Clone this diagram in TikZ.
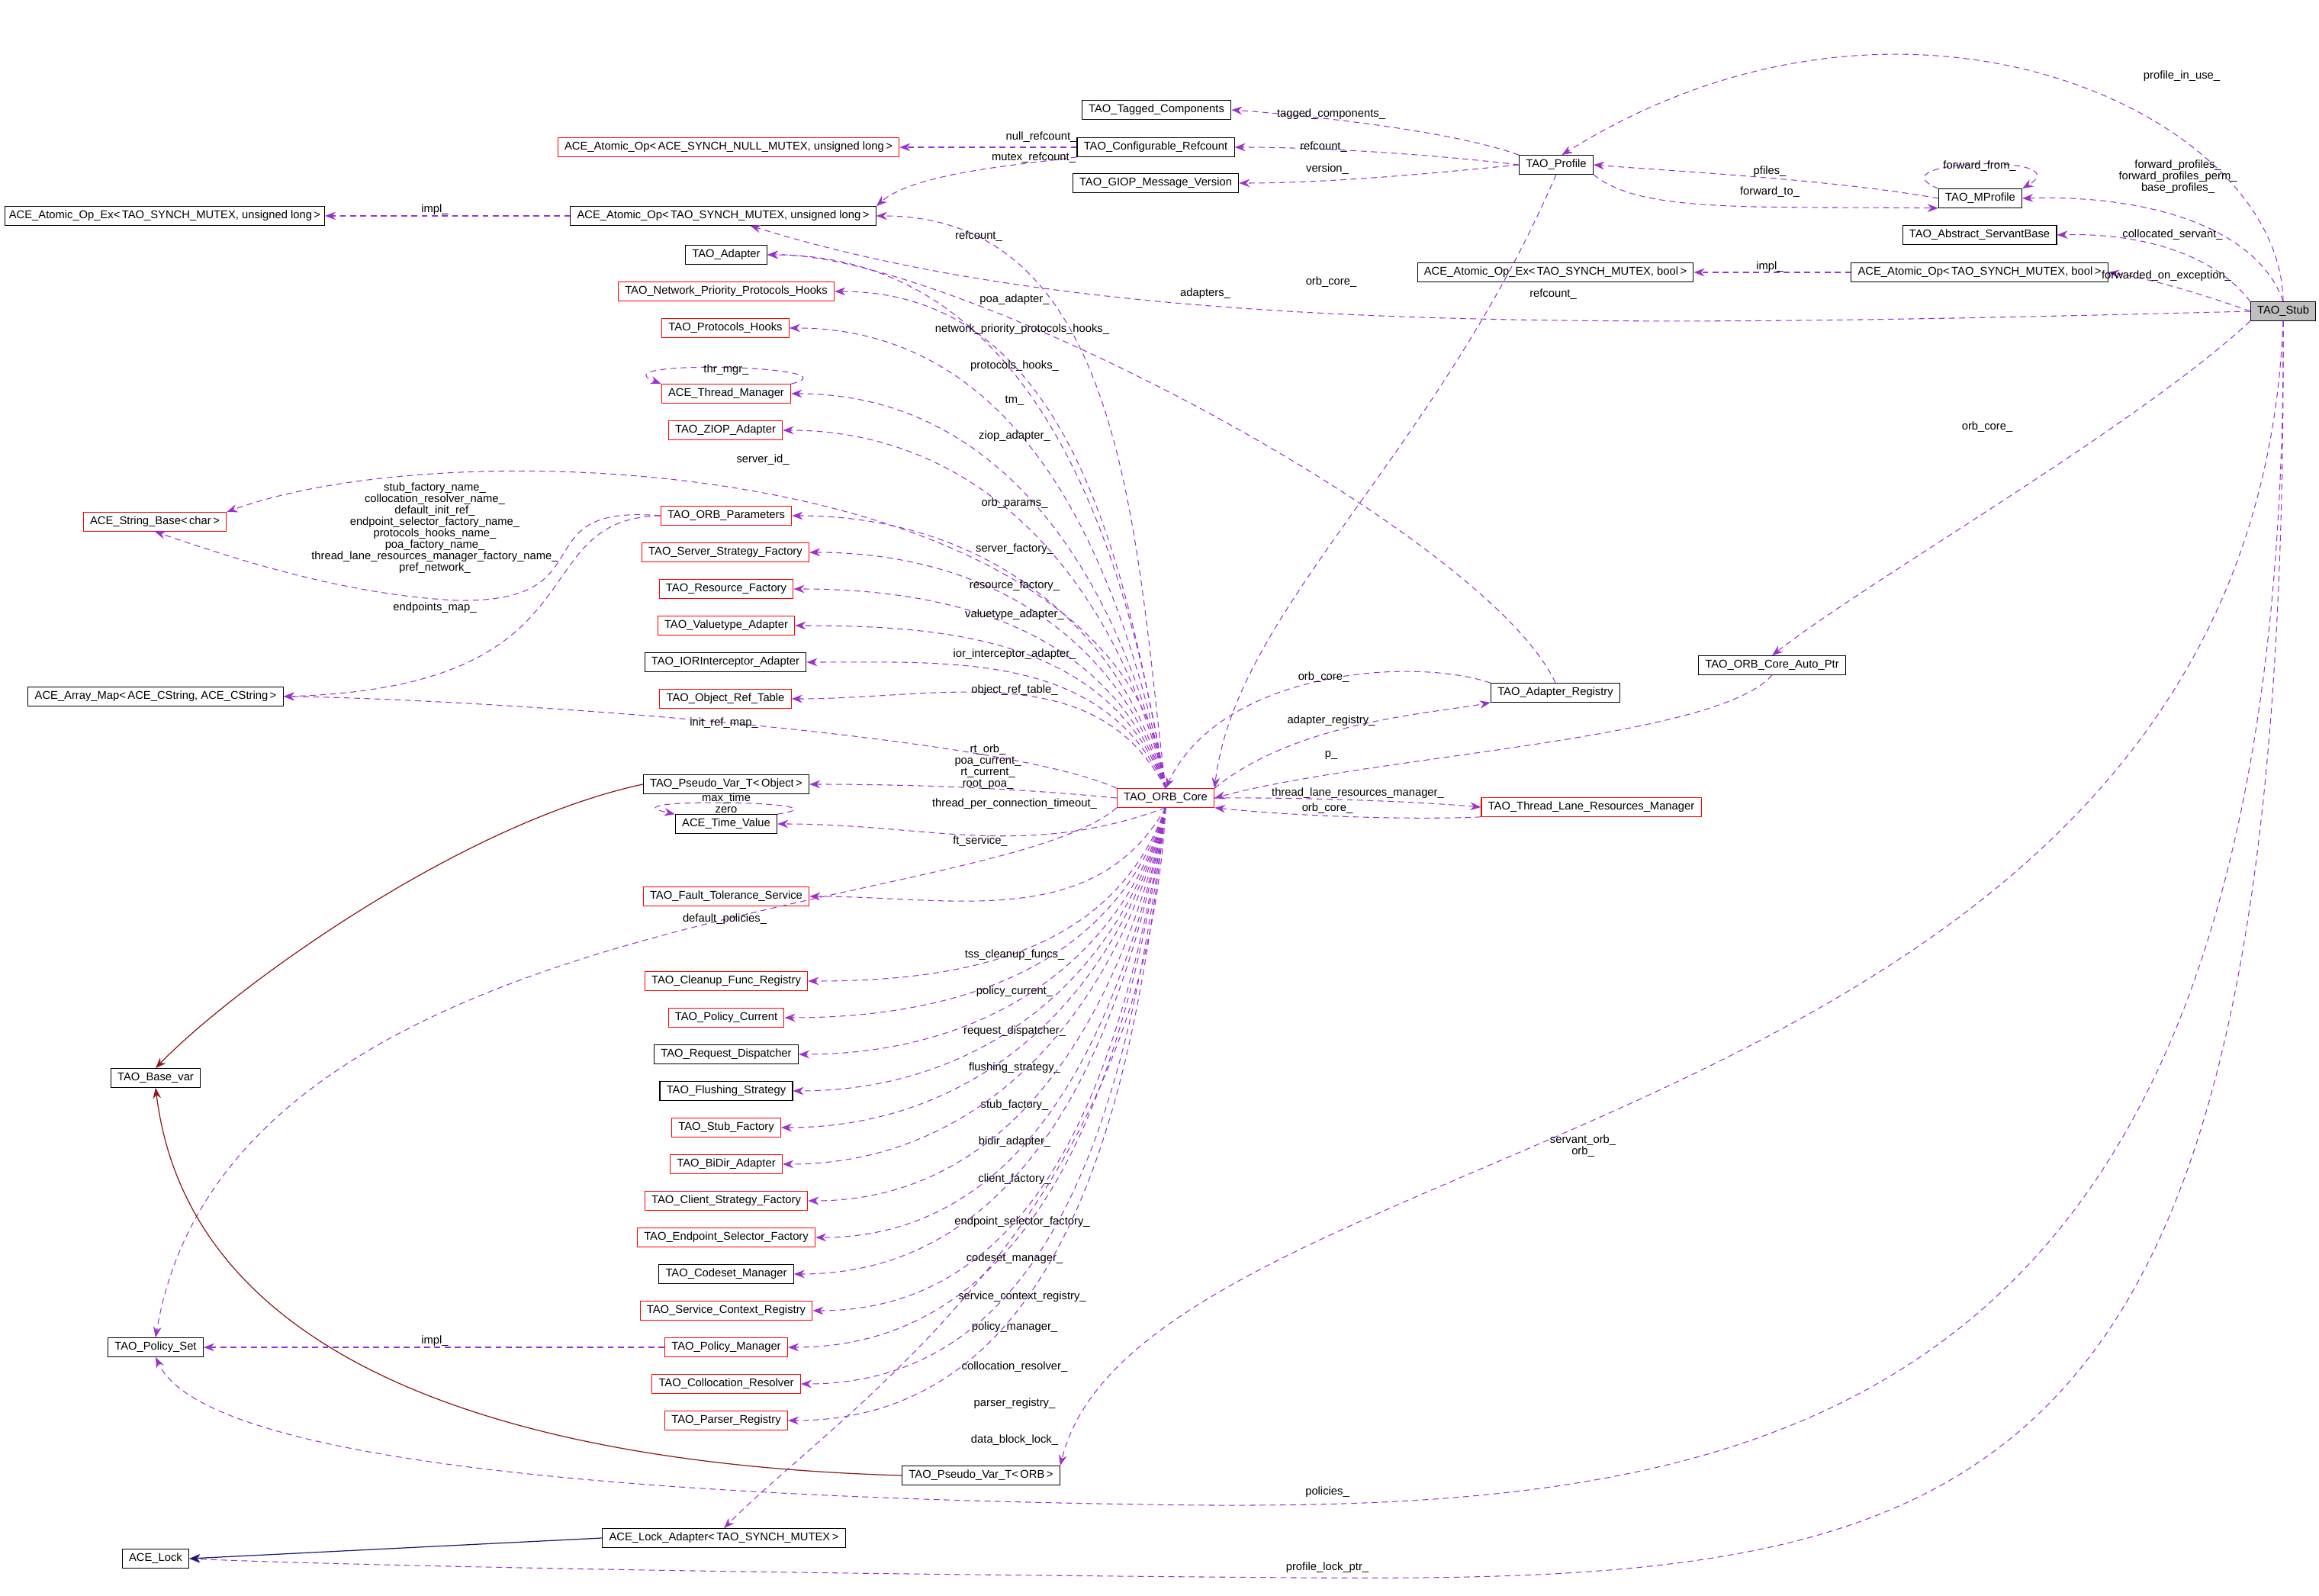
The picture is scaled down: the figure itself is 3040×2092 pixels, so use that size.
\documentclass[tikz,border=0pt]{standalone}
\usepackage{fontspec}
\setmainfont{Liberation Sans}
\usetikzlibrary{arrows.meta}
\definecolor{dp}{HTML}{9A32CD}
\definecolor{ih}{HTML}{8B1A1A}
\definecolor{nv}{HTML}{191970}
\newcommand{\lt}{\textless\,}
\newcommand{\gt}{\,\textgreater}
\begin{document}
\begin{tikzpicture}[x=0.1mm,y=-0.1mm,
 every node/.style={font=\fontsize{4.2}{4.25}\selectfont},
 bx/.style={draw=black,line width=0.3pt,minimum height=7pt,inner xsep=2.5pt,inner ysep=0pt},
 rb/.style={bx,draw=red},
 dep/.style={draw=dp,dashed,dash pattern=on 2.2pt off 1.6pt,line width=0.3pt,-{Stealth[length=4pt,width=3pt]}},
 inh/.style={draw=ih,line width=0.35pt,-{Stealth[length=4pt,width=3pt]}},
 inb/.style={draw=nv,line width=0.35pt,-{Stealth[length=4pt,width=3pt]}},
 lbl/.style={inner sep=0pt,align=center}]
\useasboundingbox (0,0) rectangle (3040,2092);
% nodes
\node[bx,fill=black!25] (stub) at (2993,408) {TAO\_Stub};
\node[bx] (tc) at (1516,144) {TAO\_Tagged\_Components};
\node[bx] (cr) at (1515,193) {TAO\_Configurable\_Refcount};
\node[bx] (gm) at (1515,240) {TAO\_GIOP\_Message\_Version};
\node[bx] (prof) at (2040,216) {TAO\_Profile};
\node[bx] (mp) at (2596,260) {TAO\_MProfile};
\node[bx] (asb) at (2595,308) {TAO\_Abstract\_ServantBase};
\node[bx] (aob) at (2595,357) {ACE\_Atomic\_Op\lt TAO\_SYNCH\_MUTEX, bool\gt};
\node[bx] (aoeb) at (2039,357) {ACE\_Atomic\_Op\_Ex\lt TAO\_SYNCH\_MUTEX, bool\gt};
\node[rb] (nm) at (955,193) {ACE\_Atomic\_Op\lt ACE\_SYNCH\_NULL\_MUTEX, unsigned long\gt};
\node[bx,inner xsep=1.5pt] (aoe) at (216,283) {ACE\_Atomic\_Op\_Ex\lt TAO\_SYNCH\_MUTEX, unsigned long\gt};
\node[bx] (ao) at (948,283) {ACE\_Atomic\_Op\lt TAO\_SYNCH\_MUTEX, unsigned long\gt};
\node[bx] (ad) at (952,334) {TAO\_Adapter};
\node[rb] (np) at (952,382) {TAO\_Network\_Priority\_Protocols\_Hooks};
\node[rb] (ph) at (951,430) {TAO\_Protocols\_Hooks};
\node[rb] (tm) at (952,516) {ACE\_Thread\_Manager};
\node[rb] (zi) at (951,564) {TAO\_ZIOP\_Adapter};
\node[rb] (sb) at (203,684) {ACE\_String\_Base\lt char\gt};
\node[rb] (op) at (952,676) {TAO\_ORB\_Parameters};
\node[rb] (ssf) at (951,724) {TAO\_Server\_Strategy\_Factory};
\node[rb] (rf) at (952,772) {TAO\_Resource\_Factory};
\node[rb] (va) at (952,820) {TAO\_Valuetype\_Adapter};
\node[bx] (ia) at (951,868) {TAO\_IORInterceptor\_Adapter};
\node[rb] (ort) at (951,916) {TAO\_Object\_Ref\_Table};
\node[bx] (am) at (204,913) {ACE\_Array\_Map\lt ACE\_CString, ACE\_CString\gt};
\node[bx] (pvo) at (952,1028) {TAO\_Pseudo\_Var\_T\lt Object\gt};
\node[bx] (tv) at (952,1080) {ACE\_Time\_Value};
\node[rb] (ft) at (952,1175) {TAO\_Fault\_Tolerance\_Service};
\node[rb] (cf) at (952,1286) {TAO\_Cleanup\_Func\_Registry};
\node[rb] (pc) at (952,1334) {TAO\_Policy\_Current};
\node[bx] (rd) at (952,1382) {TAO\_Request\_Dispatcher};
\node[bx] (fs) at (952,1430) {TAO\_Flushing\_Strategy};
\node[rb] (sf) at (952,1478) {TAO\_Stub\_Factory};
\node[rb] (bd) at (952,1526) {TAO\_BiDir\_Adapter};
\node[rb] (csf) at (952,1574) {TAO\_Client\_Strategy\_Factory};
\node[rb] (esf) at (952,1622) {TAO\_Endpoint\_Selector\_Factory};
\node[bx] (cm) at (952,1670) {TAO\_Codeset\_Manager};
\node[rb] (scr) at (952,1718) {TAO\_Service\_Context\_Registry};
\node[rb] (pm) at (952,1766) {TAO\_Policy\_Manager};
\node[rb] (cor) at (952,1814) {TAO\_Collocation\_Resolver};
\node[rb] (pr) at (952,1862) {TAO\_Parser\_Registry};
\node[bx] (pvr) at (1286,1934) {TAO\_Pseudo\_Var\_T\lt ORB\gt};
\node[bx] (la) at (949,2016) {ACE\_Lock\_Adapter\lt TAO\_SYNCH\_MUTEX\gt};
\node[bx] (lk) at (204,2043) {ACE\_Lock};
\node[bx] (bv) at (204,1413) {TAO\_Base\_var};
\node[bx] (ps) at (204,1766) {TAO\_Policy\_Set};
\node[rb] (core) at (1528,1046) {TAO\_ORB\_Core};
\node[bx] (ar) at (2039,908) {TAO\_Adapter\_Registry};
\node[rb] (tl) at (2086,1058) {TAO\_Thread\_Lane\_Resources\_Manager};
\node[bx] (ap) at (2323,872) {TAO\_ORB\_Core\_Auto\_Ptr};
% TAO_Stub edges
\draw[dep] (stub.north) .. controls (2990,150) and (2500,-80) .. (prof.60);
\node[lbl] at (2860,100) {profile\_in\_use\_};
\draw[dep] (stub.north) .. controls (2960,300) and (2820,255) .. (mp.east);
\node[lbl] at (2855,232) {forward\_profiles\_\\forward\_profiles\_perm\_\\base\_profiles\_};
\draw[dep] (stub.north west) .. controls (2900,330) and (2800,305) .. (asb.east);
\node[lbl] at (2848,308) {collocated\_servant\_};
\draw[dep] (stub.west) .. controls (2900,390) and (2820,365) .. (aob.east);
\node[lbl] at (2840,362) {forwarded\_on\_exception\_};
\draw[dep] (stub.west) .. controls (2100,430) and (1450,440) .. (ao.-20);
\node[lbl] at (2036,386) {refcount\_};
\node[lbl] at (1745,370) {orb\_core\_};
\draw[dep] (stub.south west) .. controls (2800,560) and (2450,760) .. (ap.north);
\node[lbl] at (2605,560) {orb\_core\_};
\draw[dep] (stub.south) .. controls (2950,1500) and (1500,1480) .. (pvr.north east);
\node[lbl] at (2075,1502) {servant\_orb\_\\orb\_};
\coordinate (p1) at (1500,1972);
\draw[dep] (stub.south) .. controls (3000,1900) and (2300,1985) .. (p1) .. controls (700,1960) and (260,1900) .. (ps.south);
\node[lbl] at (1740,1956) {policies\_};
\coordinate (p2) at (1700,2068);
\draw[dep] (stub.south) .. controls (3000,2000) and (2600,2075) .. (p2) .. controls (900,2062) and (400,2050) .. (lk.east);
\node[lbl] at (1740,2055) {profile\_lock\_ptr\_};
% profile area
\draw[dep] (prof.north west) .. controls (1900,170) and (1700,150) .. (tc.east);
\node[lbl] at (1745,150) {tagged\_components\_};
\draw[dep] (prof.west) .. controls (1900,205) and (1750,193) .. (cr.east);
\node[lbl] at (1735,193) {refcount\_};
\draw[dep] (prof.west) .. controls (1900,225) and (1750,240) .. (gm.east);
\node[lbl] at (1740,222) {version\_};
\draw[dep] (mp.west) .. controls (2400,235) and (2200,225) .. (prof.east);
\node[lbl] at (2320,225) {pfiles\_};
\draw[dep] (prof.south east) .. controls (2150,280) and (2300,270) .. (mp.south west);
\node[lbl] at (2320,252) {forward\_to\_};
\draw[dep] (mp.north west) .. controls (2450,210) and (2730,200) .. (mp.north east);
\node[lbl] at (2595,218) {forward\_from\_};
\draw[dep] (prof.south) .. controls (1880,600) and (1620,800) .. (core.north east);
\draw[dep] (cr.west) -- (nm.east);
\node[lbl] at (1365,180) {null\_refcount\_};
\draw[dep] (cr.south west) .. controls (1350,215) and (1200,225) .. (ao.north east);
\node[lbl] at (1355,207) {mutex\_refcount\_};
\draw[dep] (ao.west) -- (aoe.east);
\node[lbl] at (570,275) {impl\_};
\draw[dep] (aob.west) -- (aoeb.east);
\node[lbl] at (2320,350) {impl\_};
% adapter registry etc
\draw[dep] (ar.north) .. controls (1950,700) and (1250,330) .. (ad.east);
\node[lbl] at (1580,385) {adapters\_};
\draw[dep] (ar.north west) .. controls (1850,860) and (1600,880) .. (core.north);
\node[lbl] at (1735,888) {orb\_core\_};
\draw[dep] (core.north east) .. controls (1700,945) and (1880,935) .. (ar.south west);
\node[lbl] at (1745,945) {adapter\_registry\_};
\draw[dep] (ap.south) .. controls (2250,970) and (1800,990) .. (core.east);
\node[lbl] at (1745,990) {p\_};
\draw[dep] (core.east) .. controls (1700,1045) and (1850,1050) .. (tl.west);
\node[lbl] at (1780,1040) {thread\_lane\_resources\_manager\_};
\draw[dep] (tl.south west) .. controls (1850,1075) and (1700,1070) .. (core.south east);
\node[lbl] at (1740,1060) {orb\_core\_};
% core upper fan
\foreach \t/\l/\lx/\ly/\o in {ao/refcount\_/1283/310/97,ad/poa\_adapter\_/1330/393/99,np/network\_priority\_protocols\_hooks\_/1340/432/100,ph/protocols\_hooks\_/1330/480/101,tm/tm\_/1330/525/102,zi/ziop\_adapter\_/1330/572/103,op/orb\_params\_/1330/660/105,ssf/server\_factory\_/1330/720/107,rf/resource\_factory\_/1330/768/109,va/valuetype\_adapter\_/1330/806/111,ia/ior\_interceptor\_adapter\_/1330/858/114,ort/object\_ref\_table\_/1330/905/118}
 {\draw[dep] (core.north) to[out=\o,in=0] (\t.east); \node[lbl] at (\lx,\ly) {\l};}
% core lower fan
\foreach \t/\l/\lx/\ly/\o in {tv/thread\_per\_connection\_timeout\_/1330/1054/200,ft/ft\_service\_/1285/1103/240,cf/tss\_cleanup\_funcs\_/1330/1252/250,pc/policy\_current\_/1330/1300/252,rd/request\_dispatcher\_/1330/1352/254,fs/flushing\_strategy\_/1330/1400/255,sf/stub\_factory\_/1330/1449/256,bd/bidir\_adapter\_/1330/1497/257,csf/client\_factory\_/1330/1546/258,esf/endpoint\_selector\_factory\_/1340/1602/259,cm/codeset\_manager\_/1330/1650/260,scr/service\_context\_registry\_/1340/1700/261,pm/policy\_manager\_/1330/1740/262,cor/collocation\_resolver\_/1330/1792/263,pr/parser\_registry\_/1330/1840/264}
 {\draw[dep] (core.south) to[out=\o,in=0] (\t.east); \node[lbl] at (\lx,\ly) {\l};}
\draw[dep] (core.west) .. controls (1300,1030) and (1150,1028) .. (pvo.east);
\node[lbl] at (1295,1005) {rt\_orb\_\\poa\_current\_\\rt\_current\_\\root\_poa\_};
\draw[dep] (core.north) .. controls (1480,600) and (600,560) .. (sb.north east);
\node[lbl] at (1000,603) {server\_id\_};
\draw[dep] (core.north west) .. controls (1300,960) and (600,915) .. (am.east);
\node[lbl] at (949,948) {init\_ref\_map\_};
\draw[dep] (core.south west) .. controls (1300,1200) and (300,1180) .. (ps.north);
\node[lbl] at (950,1205) {default\_policies\_};
\draw[dep] (core.south) .. controls (1500,1600) and (1100,1850) .. (la.north);
\node[lbl] at (1330,1888) {data\_block\_lock\_};
% self loops
\draw[dep] (tm.north east) .. controls (1130,480) and (780,470) .. (tm.north west);
\node[lbl] at (952,485) {thr\_mgr\_};
\draw[dep] (tv.north east) .. controls (1130,1050) and (780,1045) .. (tv.north west);
\node[lbl] at (952,1053) {max\_time\\zero};
% orb params
\coordinate (c1) at (600,787);
\draw[dep] (op.west) .. controls (680,660) and (800,790) .. (c1) .. controls (450,780) and (300,730) .. (sb.south);
\node[lbl] at (570,692) {stub\_factory\_name\_\\collocation\_resolver\_name\_\\default\_init\_ref\_\\endpoint\_selector\_factory\_name\_\\protocols\_hooks\_name\_\\poa\_factory\_name\_\\thread\_lane\_resources\_manager\_factory\_name\_\\pref\_network\_};
\draw[dep] (op.west) .. controls (680,680) and (800,900) .. (am.east);
\node[lbl] at (570,797) {endpoints\_map\_};
\draw[dep] (pm.west) -- (ps.east);
\node[lbl] at (570,1758) {impl\_};
% inheritance
\draw[inh] (pvo.west) .. controls (600,1080) and (300,1300) .. (bv.north);
\draw[inh] (pvr.west) .. controls (700,1920) and (250,1800) .. (bv.south);
\draw[inb] (la.west) -- (lk.east);
\end{tikzpicture}
\end{document}
